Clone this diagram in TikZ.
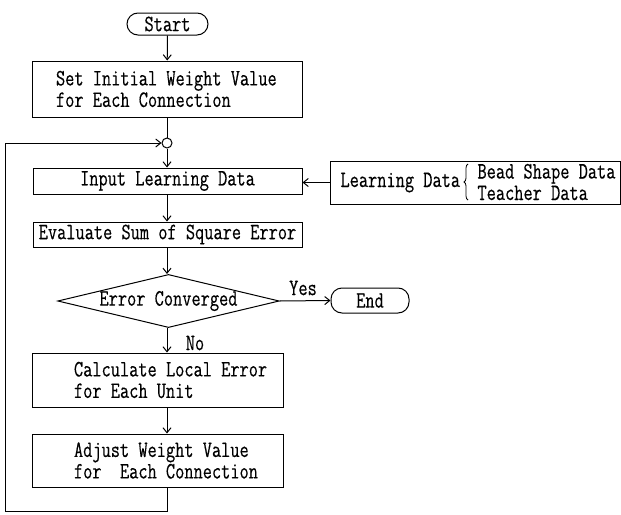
\documentclass[tikz,border=0pt]{standalone}
\usepackage{fontspec}
\setmainfont{Latin Modern Mono}[FakeStretch=0.76,FakeBold=0.35]
\usetikzlibrary{arrows.meta,shapes.geometric,decorations.pathreplacing}
\begin{document}
\begin{tikzpicture}[x=1pt,y=-1pt,
  line width=1pt,
  every node/.append style={font=\fontsize{23.5}{21.5}\selectfont},
  arr/.style={-{Straight Barb[length=5pt,width=8pt]}},
  procbox/.style={draw,rectangle,inner sep=0pt},
  termbox/.style={draw,rectangle,rounded corners=11pt,inner sep=0pt},
  txt/.style={inner sep=0pt,align=left}]
\useasboundingbox (0,0) rectangle (621,514);

% terminals
\node[termbox,minimum width=81,minimum height=22] (start) at (167.5,24) {Start};
\node[termbox,minimum width=78,minimum height=25] (endn) at (370,300.5) {End};

% process boxes
\node[procbox,minimum width=270,minimum height=56] (b1) at (167,89) {};
\node[txt,anchor=west] at ([xshift=24]b1.west) {Set Initial Weight Value\\for Each Connection};

\node[draw,circle,minimum size=10,inner sep=0pt] (circ) at (167,143) {};

\node[procbox,minimum width=269,minimum height=26] (in) at (167.5,181) {Input Learning Data};
\node[procbox,minimum width=269,minimum height=25] (ev) at (167.5,234.5) {Evaluate Sum of Square Error};

\node[draw,diamond,aspect=4.17,minimum width=217,minimum height=52,inner sep=0pt] (dec) at (168.5,301) {Error Converged};

\node[procbox,minimum width=251,minimum height=54] (b3) at (157.5,380) {};
\node[txt,anchor=west] at ([xshift=42]b3.west) {Calculate Local Error\\for Each Unit};

\node[procbox,minimum width=251,minimum height=53] (b4) at (157.5,460.5) {};
\node[txt,anchor=west] at ([xshift=42]b4.west) {Adjust Weight Value\\for\ \ Each Connection};

% learning data box
\node[procbox,minimum width=290,minimum height=43] (ld) at (475,182.5) {};
\node[txt,anchor=base west] at (340,187) {Learning Data};
\node[txt,anchor=west] at (477,182) {Bead Shape Data\\Teacher Data};
\draw[line width=0.8pt,decorate,decoration={brace,amplitude=4pt}] (468,200) -- (468,164);

% labels
\node[inner sep=0pt] at (303,288) {Yes};
\node[inner sep=0pt] at (195,343) {No};

% connectors
\coordinate (lpb) at (5,511);
\draw[arr] (start) -- (b1);
\draw (b1.south -| circ.north) -- (circ.north);
\draw[arr] (circ.south) -- (in.north -| circ.south);
\draw[arr] (ld.west) -- (in.east |- ld.west);
\draw[arr] (in.south -| circ.south) -- (ev.north -| circ.south);
\draw[arr] (ev.south -| circ.south) -- (dec.north -| circ.south);
\draw[arr] (dec.east) -- (endn.west);
\draw[arr] (dec.south -| circ.south) -- (b3.north -| circ.south);
\draw[arr] (b3.south -| circ.south) -- (b4.north -| circ.south);
\draw[arr] (b4.south -| circ.south) |- (lpb) |- (circ.west);
\end{tikzpicture}
\end{document}
